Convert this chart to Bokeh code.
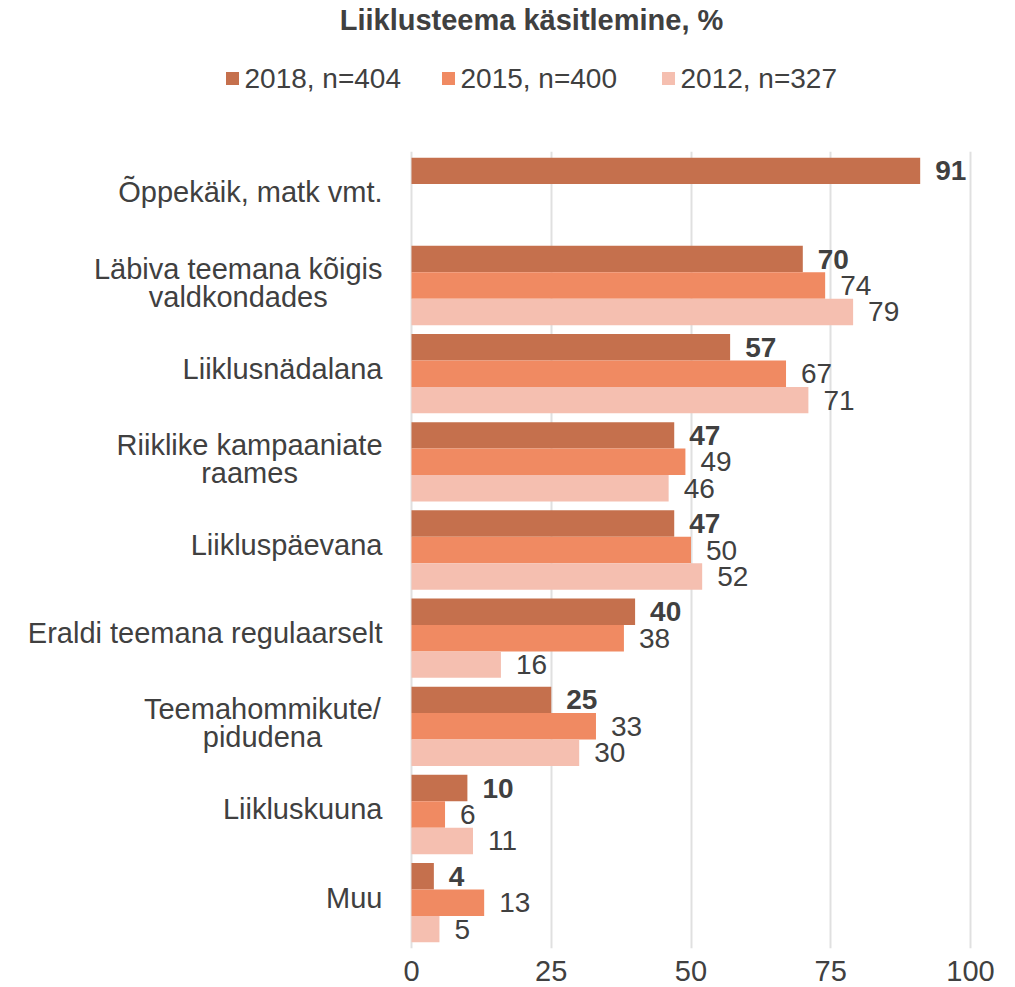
from bokeh.plotting import figure
from bokeh.models import Range1d, FixedTicker, ColumnDataSource
from bokeh.layouts import column
from bokeh.embed import file_html
from bokeh.resources import INLINE
from bokeh.core.properties import value

# ---------------- data ----------------
title_text = "Liiklusteema käsitlemine, %"
categories = [
    "Õppekäik, matk vmt.",
    "Läbiva teemana kõigis\nvaldkondades",
    "Liiklusnädalana",
    "Riiklike kampaaniate\nraames",
    "Liikluspäevana",
    "Eraldi teemana regulaarselt",
    "Teemahommikute/\npidudena",
    "Liikluskuuna",
    "Muu",
]
series_names = ["2018, n=404", "2015, n=400", "2012, n=327"]
values_2018 = [91, 70, 57, 47, 47, 40, 25, 10, 4]
values_2015 = [None, 74, 67, 49, 50, 38, 33, 6, 13]
values_2012 = [None, 79, 71, 46, 52, 16, 30, 11, 5]
x_ticks = [0, 25, 50, 75, 100]

# ---------------- style / layout ----------------
colors = ["#C5704D", "#F08A62", "#F5BFB0"]
TEXT = "#404040"
FONT = "Liberation Sans"
W = 1000
TOP_H = 151
FRAME_H = 797.0
BOTTOM_PANEL = 38
MAIN_H = int(FRAME_H) + BOTTOM_PANEL
PX0 = 411.0       # page x of value 0
PX_PER = 5.59     # pixels per unit


def px(page_x):
    return (page_x - PX0) / PX_PER


x_range = Range1d(px(0), px(W))
n = len(categories)
y_top = (n - 1) + 0.52
y_range = Range1d(-0.52, y_top)
PX_PER_Y = FRAME_H / (y_top + 0.52)

# Arial-like character widths (1/1000 em) to centre two-line labels
CW = {"a": 556, "b": 556, "c": 500, "d": 556, "e": 556, "g": 556, "h": 556, "i": 222,
      "k": 500, "l": 222, "m": 833, "n": 556, "o": 556, "p": 556, "r": 333, "s": 500,
      "t": 278, "u": 556, "v": 500, "õ": 556, "ä": 556, "L": 556, "R": 722, "T": 611,
      "E": 667, "M": 833, "Õ": 778, " ": 278, "/": 278, ",": 278, ".": 278}


def est_width(s, size):
    return sum(CW.get(c, 556) for c in s) / 1000.0 * size


CAT_SIZE = 29
LBL_SIZE = 28

# ---------------- main figure ----------------
p = figure(width=W, height=MAIN_H, x_range=x_range, y_range=y_range,
           y_axis_location=None, toolbar_location=None, output_backend="svg",
           min_border_left=0, min_border_right=0, min_border_top=0,
           min_border_bottom=BOTTOM_PANEL)
p.outline_line_color = None
p.background_fill_color = "white"
p.border_fill_color = "white"

ticker = FixedTicker(ticks=x_ticks)
p.xaxis.ticker = ticker
p.xaxis.axis_line_color = None
p.xaxis.major_tick_line_color = None
p.xaxis.minor_tick_line_color = None
p.xaxis.major_label_text_font = FONT
p.xaxis.major_label_text_font_size = "29px"
p.xaxis.major_label_text_color = TEXT
p.xaxis.major_label_standoff = 6
p.xgrid.ticker = ticker
p.xgrid.grid_line_color = "#E0E0E0"
p.xgrid.grid_line_width = 2
p.ygrid.visible = False

centers = [(n - 1) - i for i in range(n)]
offsets = [0.3, 0.0, -0.3]
bar_h = 0.3
all_series = [values_2018, values_2015, values_2012]

for s, vals in enumerate(all_series):
    ys, rs, ts = [], [], []
    for i, v in enumerate(vals):
        if v is None:
            continue
        ys.append(centers[i] + offsets[s])
        rs.append(v)
        ts.append(str(v))
    src = ColumnDataSource(dict(y=ys, right=rs, text=ts))
    p.hbar(y="y", left=0, right="right", height=bar_h, source=src,
           fill_color=colors[s], line_color=None)
    p.text(x="right", y="y", text="text", source=src, x_offset=15,
           text_align="left", text_baseline="middle",
           text_font=value(FONT), text_font_size=f"{LBL_SIZE}px",
           text_font_style="bold" if s == 0 else "normal", text_color=TEXT)

# category labels
cx, cy, ct, ca = [], [], [], []
RIGHT_EDGE = 382.0
line_dy = 14.0 / PX_PER_Y
lift = 5.0 / PX_PER_Y
for i, cat in enumerate(categories):
    lines = cat.split("\n")
    if len(lines) == 1:
        cx.append(px(RIGHT_EDGE)); cy.append(centers[i] + lift); ct.append(lines[0]); ca.append("right")
    else:
        w = max(est_width(l, CAT_SIZE) for l in lines)
        c = px(RIGHT_EDGE - w / 2.0)
        for k, l in enumerate(lines):
            cx.append(c); cy.append(centers[i] + lift * 0.6 + line_dy * (1 - 2 * k))
            ct.append(l); ca.append("center")
p.text(x="x", y="y", text="t", text_align="a",
       source=ColumnDataSource(dict(x=cx, y=cy, t=ct, a=ca)),
       text_baseline="middle", text_font=value(FONT),
       text_font_size=f"{CAT_SIZE}px", text_color=TEXT)

# ---------------- top figure: title and legend ----------------
top = figure(width=W, height=TOP_H, x_range=x_range, y_range=Range1d(0, TOP_H),
             x_axis_location=None, y_axis_location=None, toolbar_location=None,
             output_backend="svg", min_border=0)
top.outline_line_color = None
top.grid.visible = False
top.background_fill_color = "white"
top.border_fill_color = "white"

top.text(x=[px(531)], y=[TOP_H - 19], text=[title_text],
         text_align="center", text_baseline="middle", text_font=value(FONT),
         text_font_size="29px", text_font_style="bold", text_color=TEXT)

leg_y = TOP_H - 78
sq_x = [px(232), px(448), px(668)]
tx_x = [px(244), px(460), px(680)]
top.scatter(x=sq_x, y=[leg_y] * 3, marker="square", size=13,
            fill_color=colors, line_color=None)
top.text(x=tx_x, y=[leg_y] * 3, text=series_names, text_align="left",
         text_baseline="middle", text_font=value(FONT), text_font_size="28px",
         text_color=TEXT)

layout = column(top, p, spacing=0)
open("out.html", "w").write(file_html(layout, INLINE))
